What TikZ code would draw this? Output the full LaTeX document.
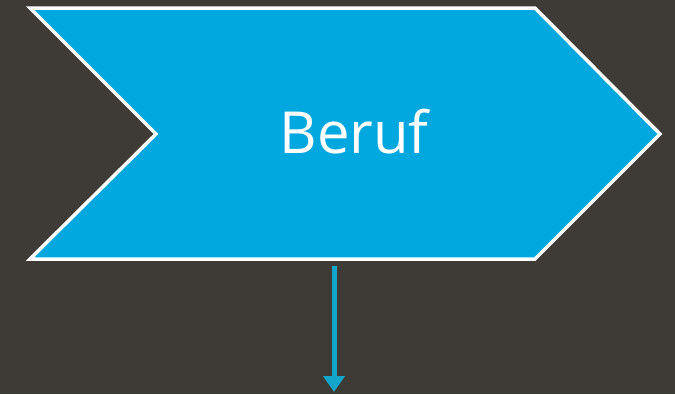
\documentclass[tikz,border=0pt]{standalone}
\usepackage{fontspec}
\setmainfont{Open Sans}
\usetikzlibrary{arrows.meta}
\definecolor{bg}{HTML}{3E3A36}
\definecolor{chev}{HTML}{00A8DF}
\definecolor{arr}{HTML}{12A6CA}
\tikzset{
  chevron/.style={fill=chev,draw=white,line width=3.5pt,line join=miter},
  label/.style={text=white,font=\fontsize{58}{58}\selectfont,inner sep=0pt},
  flow/.style={draw=arr,line width=5pt,-{Triangle[width=21pt,length=16pt]}}
}
\begin{document}
\begin{tikzpicture}[x=1pt,y=-1pt]
\fill[bg] (0,0) rectangle (675,394);
\useasboundingbox (0,0) rectangle (675,394);
\draw[chevron] (30,8) -- (535,8) -- (660,134) -- (535,259) -- (30,259) -- (156,134) -- cycle;
\node[label] (t) at (354,132) {Beruf};
\coordinate (s) at (334,266);
\coordinate (e) at (334,392);
\draw[flow] (s) -- (e);
\end{tikzpicture}
\end{document}
